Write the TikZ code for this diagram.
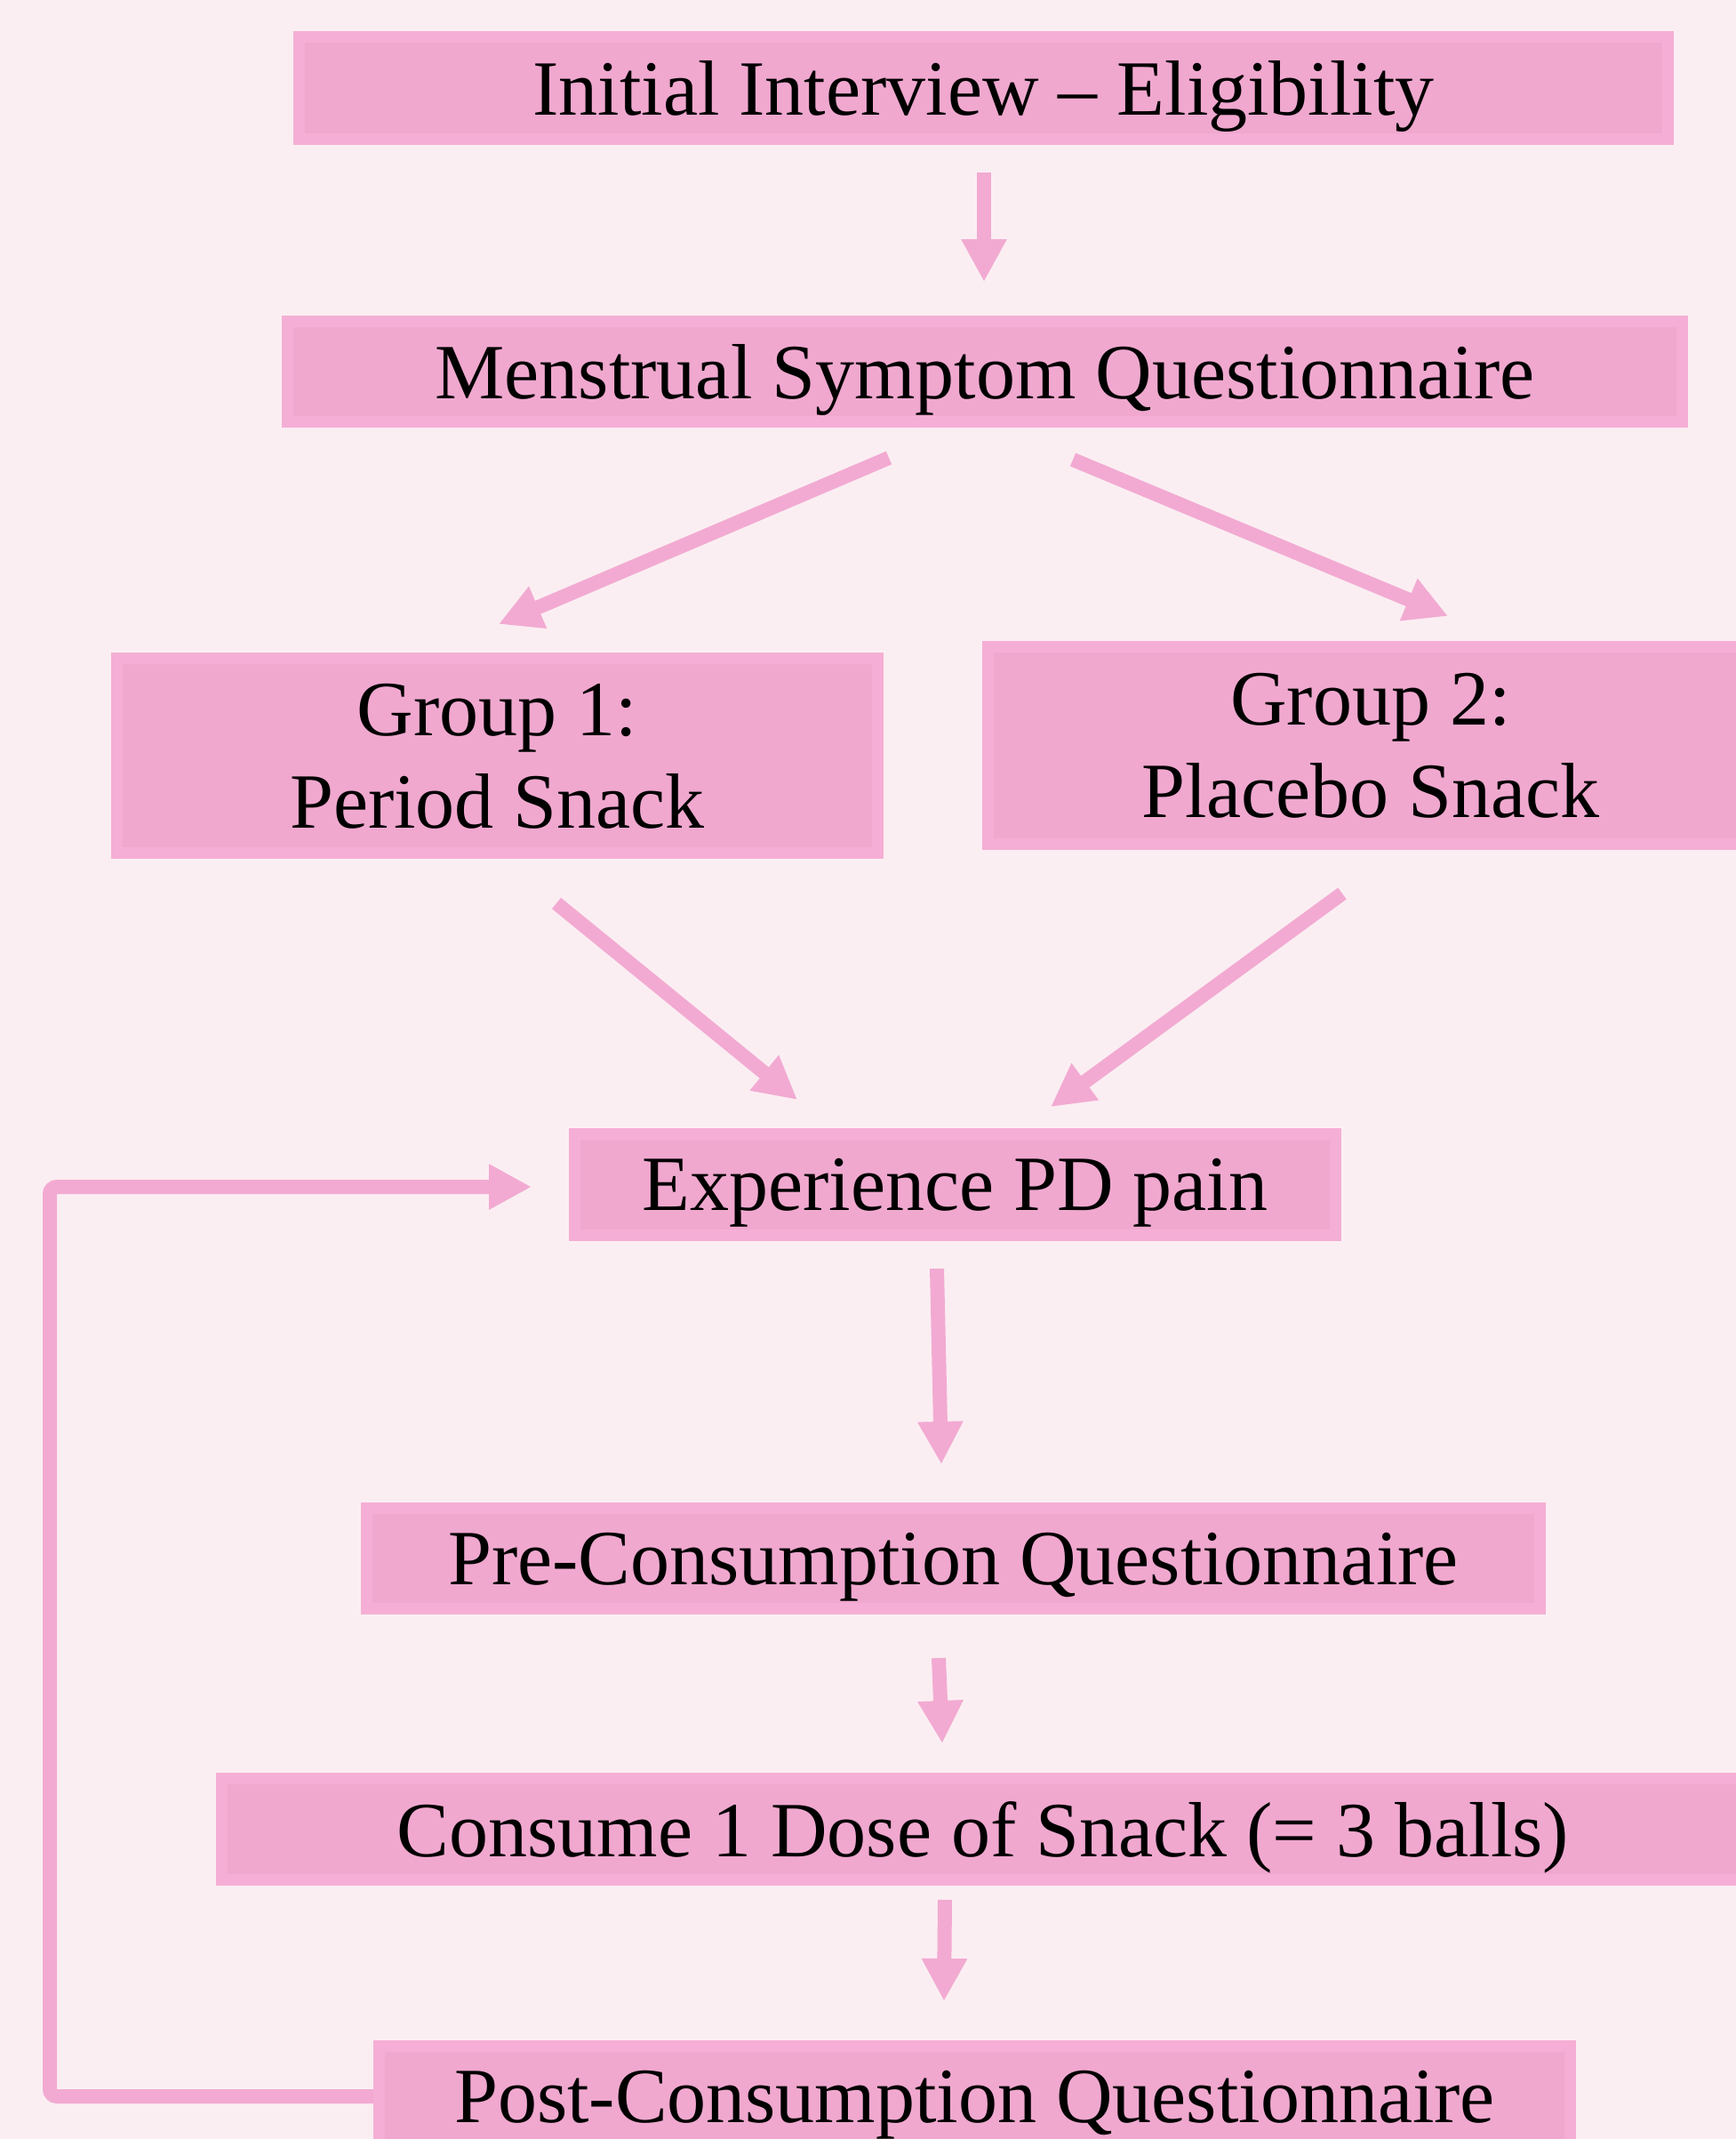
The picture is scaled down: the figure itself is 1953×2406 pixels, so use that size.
\documentclass[tikz,border=0pt]{standalone}
\usepackage{fontspec}
\setmainfont{Liberation Serif}
\usetikzlibrary{arrows.meta}
\definecolor{bgc}{HTML}{FBEEF2}
\definecolor{boxfill}{HTML}{F0A8CF}
\definecolor{boxedge}{HTML}{F5AED5}
\definecolor{arrowc}{HTML}{F2AAD2}
\tikzset{
  box/.style={rectangle, fill=boxfill, draw=boxedge, line width=2pt, inner sep=0pt,
    align=center, font=\fontsize{88}{104}\selectfont, text depth=0pt,
    path picture={
      \fill[boxedge, even odd rule]
        (path picture bounding box.south west) rectangle (path picture bounding box.north east)
        ([shift={(12pt,-12pt)}]path picture bounding box.north west) rectangle
        ([shift={(-12pt,12pt)}]path picture bounding box.south east);
    }},
  arr/.style={draw=arrowc, line width=16pt, -{Triangle[length=48pt,width=48pt]}}
}
\begin{document}
\begin{tikzpicture}[x=1pt,y=-1pt]
\useasboundingbox (0,0) rectangle (1953,2406);
\clip (0,0) rectangle (1953,2406);
\fill[bgc] (0,0) rectangle (1953,2406);

\node[box, minimum width=1551pt, minimum height=126pt] (n1) at (1106.5,99) {Initial Interview -- Eligibility};
\node[box, minimum width=1580pt, minimum height=124pt] (n2) at (1108,418) {Menstrual Symptom Questionnaire};
\node[box, minimum width=867pt, minimum height=230pt] (g1) at (559.5,850) {Group 1:\\Period Snack};
\node[box, minimum width=872pt, minimum height=233pt] (g2) at (1542,838.5) {Group 2:\\Placebo Snack};
\node[box, minimum width=867pt, minimum height=125pt] (ex) at (1074.5,1332.5) {Experience PD pain};
\node[box, minimum width=1331pt, minimum height=124pt] (pre) at (1072.5,1753) {Pre-Consumption Questionnaire};
\node[box, minimum width=1724pt, minimum height=125pt] (con) at (1106,2057.5) {Consume 1 Dose of Snack (= 3 balls)};
\node[box, minimum width=1351pt, minimum height=124pt] (post) at (1096.5,2358) {Post-Consumption Questionnaire};

\coordinate (a1s) at (1107,194);  \coordinate (a1e) at (1107,317);
\coordinate (a2s) at (1000,515);  \coordinate (a2e) at (561,702);
\coordinate (a3s) at (1207,517);  \coordinate (a3e) at (1629,693);
\coordinate (a4s) at (626,1016);  \coordinate (a4e) at (897,1237);
\coordinate (a5s) at (1510,1005); \coordinate (a5e) at (1182,1245);
\coordinate (a6s) at (1054,1427); \coordinate (a6e) at (1059,1647);
\coordinate (a7s) at (1056,1865); \coordinate (a7e) at (1060,1961);
\coordinate (a8s) at (1063,2137); \coordinate (a8e) at (1062,2251);
\coordinate (fbx) at (56,1335);   \coordinate (fbe) at (598,1335);

\draw[arr] (a1s) -- (a1e);
\draw[arr] (a2s) -- (a2e);
\draw[arr] (a3s) -- (a3e);
\draw[arr] (a4s) -- (a4e);
\draw[arr] (a5s) -- (a5e);
\draw[arr] (a6s) -- (a6e);
\draw[arr] (a7s) -- (a7e);
\draw[arr] (a8s) -- (a8e);
\draw[arr, rounded corners=8pt] (post.west) -- (post.west -| fbx) -- (fbx) -- (fbe);
\end{tikzpicture}
\end{document}
